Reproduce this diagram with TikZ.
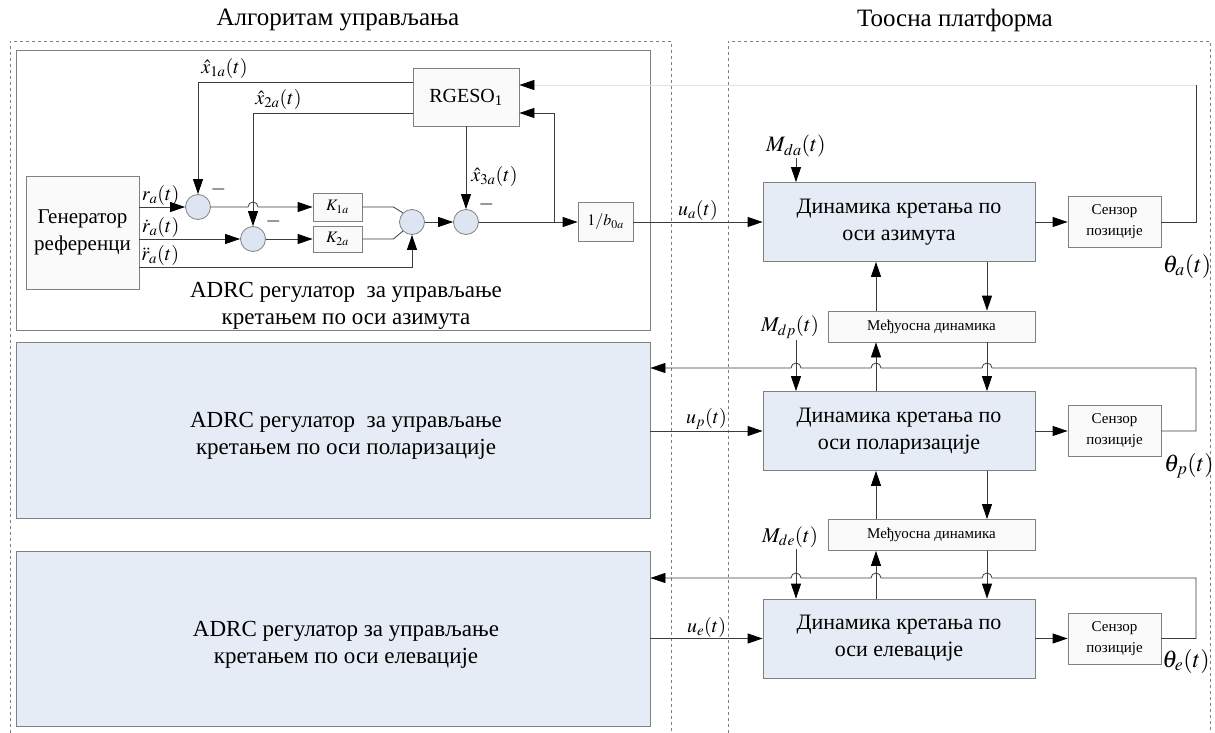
\documentclass[tikz,border=0pt]{standalone}
\usepackage{mathptmx}
\usepackage{fontspec}
\setmainfont{Liberation Serif}
\usetikzlibrary{arrows.meta,positioning,calc}

\definecolor{blu}{HTML}{E6ECF6}
\definecolor{circ}{HTML}{DCE5F1}
\definecolor{lin}{HTML}{3C3C3C}
\definecolor{brd}{HTML}{808080}
\definecolor{fnt}{HTML}{E2E2E2}

\tikzset{
	blk/.style={draw=brd, fill=gray!4, inner sep=0pt, align=center},
	dyn/.style={draw=brd, fill=blu, inner sep=0pt, align=center, minimum width=272pt, minimum height=79pt, font=\fontsize{22}{27}\selectfont},
	sen/.style={blk, minimum width=93pt, minimum height=51pt, font=\fontsize{15}{21}\selectfont},
	mdj/.style={blk, minimum width=207pt, minimum height=31pt, font=\fontsize{15}{18}\selectfont},
	ctl/.style={draw=brd, fill=blu, minimum width=634pt, inner sep=0pt},
	big/.style={align=center, font=\fontsize{23}{27}\selectfont},
	sum/.style={circle, draw=brd, fill=circ, minimum size=25pt, inner sep=0pt},
	lbl/.style={font=\fontsize{20}{24}\selectfont, inner sep=1pt},
	frm/.style={draw=brd, dashed, line width=0.6pt},
	arr/.style={-{Triangle[length=15pt,width=10pt,color=black]}},
	every path/.style={draw=lin, line width=0.8pt},
}

\begin{document}
\begin{tikzpicture}[x=1pt, y=1pt, node distance=215.5pt]
	\useasboundingbox[draw=none] (0,0) rectangle (1215,-733);

	\node(t1) [big, font=\fontsize{25}{28}\selectfont] at (338,-20) {Алгоритам управљања};
	\node(t2) [big, font=\fontsize{25}{28}\selectfont] at (955,-20) {Тоосна платформа};
	\draw[frm] (10,-733) -- (10,-41) -- (671,-41) -- (671,-733);
	\draw[frm] (728,-733) -- (728,-41) -- (1210,-41) -- (1210,-733);

	\node(c1) [draw=brd, fill=white, minimum width=634pt, minimum height=280pt, inner sep=0pt] at (333,-190) {};
	\node(c2) [ctl, minimum height=176pt] at (333,-430) {};
	\node(c3) [ctl, minimum height=175pt] at (333,-638.5) {};
	\node(a1) [big] at (346,-306) {ADRC регулатор \ за управљање\\кретањем по оси азимута};
	\node(a2) [big] at (346,-436) {ADRC регулатор \ за управљање\\кретањем по оси поларизације};
	\node(a3) [big] at (346,-645) {ADRC регулатор за управљање\\кретањем по оси елевације};

	\node(gen) [blk, minimum width=113pt, minimum height=113pt, font=\fontsize{21}{27}\selectfont] at (82.5,-232.5) {Генератор\\референци};
	\node(rgeso) [blk, minimum width=106pt, minimum height=58pt, font=\fontsize{20}{24}\selectfont] at (466,-97) {RGESO\textsubscript{1}};
	\node(s1) [sum] at (198,-207) {};
	\node(s2) [sum] at (253,-239) {};
	\node(k1) [blk, minimum width=49pt, minimum height=28pt, font=\fontsize{16}{18}\selectfont] at (337.5,-207) {$K_{1a}$};
	\node(k2) [blk, minimum width=49pt, minimum height=26pt, font=\fontsize{16}{18}\selectfont] at (337.5,-239) {$K_{2a}$};
	\node(s3) [sum] at (412,-222) {};
	\node(s4) [sum, right of=s3, node distance=54pt] {};
	\node(inv) [blk, minimum width=55pt, minimum height=39pt, font=\fontsize{16}{18}\selectfont] at (605.5,-222) {$1/b_{0a}$};

	\node(dyna) [dyn] at (899,-222) {Динамика кретања по\\оси азимута};
	\node(dynp) [dyn] at (899,-431) {Динамика кретања по\\оси поларизације};
	\node(dyne) [dyn] at (899,-638.5) {Динамика кретања по\\оси елевације};
	\node(sena) [sen, right of=dyna] {Сензор\\позиције};
	\node(senp) [sen, right of=dynp] {Сензор\\позиције};
	\node(sene) [sen, right of=dyne] {Сензор\\позиције};
	\node(mdj1) [mdj] at (931.5,-326.5) {Међуосна динамика};
	\node(mdj2) [mdj] at (931.5,-535) {Међуосна динамика};

	\coordinate(xm) at (796,0);
	\coordinate(xu) at (876,0);
	\coordinate(xd) at (987,0);
	\coordinate(xf) at (1196,0);
	\coordinate(rr) at (139,-267);
	\coordinate(br) at (554,-222);

	\draw[arr] (gen.east |- s1) -- (s1);
	\draw[arr] (gen.east |- s2) -- (s2);
	\draw[arr] (rr) -| (s3);
	\node(rl0) [lbl, anchor=south west] at ($(gen.east |- s1)+(1,0)$) {$r_a(t)$};
	\node(rl1) [lbl, anchor=south west] at ($(gen.east |- s2)+(1,0)$) {$\dot{r}_a(t)$};
	\node(rl2) [lbl, anchor=south west] at ($(rr)+(1,0)$) {$\ddot{r}_a(t)$};
	\draw[arr] (s1) -- (248,-207) arc(180:0:5) -- (k1);
	\draw[arr] (s2) -- (k2);
	\draw (k1.east) -- ++(31,0) -- (s3.135);
	\draw (k2.east) -- ++(31,0) -- (s3.225);
	\draw[arr] (s3) -- (s4);
	\draw[arr] (rgeso) -- (s4);
	\node(x3) [lbl, anchor=west] at (470,-176) {$\hat{x}_{3a}(t)$};
	\draw[arr] (s4) -- (inv);
	\draw[arr] (br) |- ($(rgeso.east)+(0,-16)$);
	\draw[arr] ($(rgeso.west)+(0,15)$) -| (s1);
	\draw[arr] ($(rgeso.west)+(0,-16)$) -| (s2);
	\node(x1) [lbl, anchor=south west] at (200,-80) {$\hat{x}_{1a}(t)$};
	\node(x2) [lbl, anchor=south west] at (254,-111) {$\hat{x}_{2a}(t)$};
	\node(m1) [lbl, above right=0pt and 2pt of s1] {$-$};
	\node(m2) [lbl, above right=0pt and 2pt of s2] {$-$};
	\node(m4) [lbl, above right=0pt and 2pt of s4] {$-$};

	\draw[arr] (inv) -- (dyna) node[lbl, pos=0.5, above] {$u_a(t)$};
	\draw[arr] (c2.east |- dynp) -- (dynp) node[lbl, pos=0.5, above] {$u_p(t)$};
	\draw[arr] (c3.east |- dyne) -- (dyne) node[lbl, pos=0.5, above] {$u_e(t)$};
	\draw[arr] (dyna) -- (sena);
	\draw[arr] (dynp) -- (senp);
	\draw[arr] (dyne) -- (sene);

	\draw (sena.east) -- (sena.east -| xf) -- (xf |- 0,-85) coordinate(fa);
	\draw[draw=fnt, arr] (fa) -- (fa -| rgeso.east);
	\draw[arr] (senp.east) -- (senp.east -| xf) -- (xf |- 0,-368) -- (992,-368) arc(0:180:5) -- (881,-368) arc(0:180:5) -- (801,-368) arc(0:180:5) -- (c2.east |- 0,-368);
	\draw[arr] (sene.east) -- (sene.east -| xf) -- (xf |- 0,-578) -- (992,-578) arc(0:180:5) -- (881,-578) arc(0:180:5) -- (801,-578) arc(0:180:5) -- (c3.east |- 0,-578);

	\node(mda) [lbl, font=\fontsize{22}{24}\selectfont] at (796,-146) {$M_{da}(t)$};
	\node(mdp) [lbl, font=\fontsize{21}{24}\selectfont] at (790,-327) {$M_{dp}(t)$};
	\node(mde) [lbl, font=\fontsize{21}{24}\selectfont] at (790,-537) {$M_{de}(t)$};
	\draw[arr] (mda.south -| xm) -- (dyna.north -| xm);
	\draw[arr] (mdp.south -| xm) -- (dynp.north -| xm);
	\draw[arr] (mde.south -| xm) -- (dyne.north -| xm);
	\draw[arr] (mdj1.north -| xu) -- (dyna.south -| xu);
	\draw[arr] (dyna.south -| xd) -- (mdj1.north -| xd);
	\draw[arr] (dynp.north -| xu) -- (mdj1.south -| xu);
	\draw[arr] (mdj1.south -| xd) -- (dynp.north -| xd);
	\draw[arr] (mdj2.north -| xu) -- (dynp.south -| xu);
	\draw[arr] (dynp.south -| xd) -- (mdj2.north -| xd);
	\draw[arr] (dyne.north -| xu) -- (mdj2.south -| xu);
	\draw[arr] (mdj2.south -| xd) -- (dyne.north -| xd);

	\node(tha) [lbl, font=\fontsize{24}{26}\selectfont] at (1187,-266) {$\theta_a(t)$};
	\node(thp) [lbl, font=\fontsize{24}{26}\selectfont] at (1189,-466) {$\theta_p(t)$};
	\node(the) [lbl, font=\fontsize{24}{26}\selectfont] at (1186,-661) {$\theta_e(t)$};
\end{tikzpicture}
\end{document}
